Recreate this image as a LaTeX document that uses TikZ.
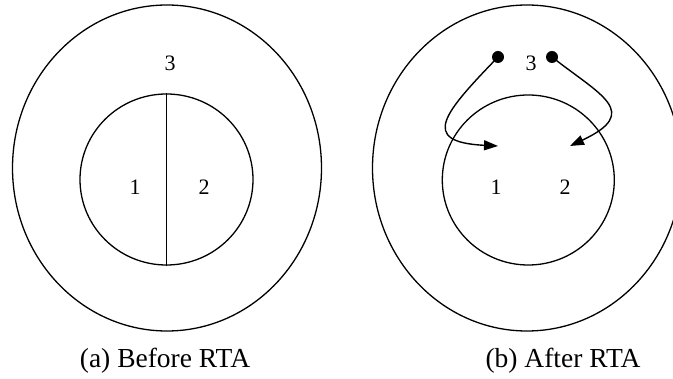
\documentclass[tikz,border=0pt]{standalone}
\usepackage{fontspec}
\setmainfont{Liberation Serif}
\usetikzlibrary{arrows.meta,shapes.geometric}

\begin{document}
\begin{tikzpicture}[
  x=1pt, y=-1pt,
  line width=1.3pt,
  region/.style={draw, ellipse, inner sep=0pt},
  part/.style={font=\fontsize{22}{26}\selectfont, inner sep=0pt},
  caption/.style={font=\fontsize{27.5}{32}\selectfont, inner sep=0pt},
  agent/.style={circle, fill, inner sep=0pt, minimum size=12pt},
  move/.style={-{Triangle[length=14pt, width=10pt]}, line width=1.4pt}
]
\clip (0,0) rectangle (673,379);

% (a) before
\node[region, minimum width=309pt, minimum height=326pt] (outerA) at (167,168) {};
\node[region, minimum width=173pt, minimum height=171pt] (innerA) at (166.5,179.5) {};
\draw[line width=1.8pt] (innerA.north) -- (innerA.south);
\node[part] (threeA) at (170,63) {3};
\node[part] (oneA) at (135,187) {1};
\node[part] (twoA) at (204,187) {2};
\node[caption] (capA) at (165,361) {(a) Before RTA};

% (b) after
\node[region, minimum width=309pt, minimum height=326pt] (outerB) at (527,168) {};
\node[region, minimum width=172pt, minimum height=170pt] (innerB) at (528.3,180) {};
\node[part] (threeB) at (531,63) {3};
\node[part] (oneB) at (496,187) {1};
\node[part] (twoB) at (565,187) {2};
\node[agent] (dotL) at (498,57) {};
\node[agent] (dotR) at (552,57) {};
\coordinate (tipL) at (498,146);
\coordinate (tipR) at (570,146);
\draw[move] (dotL.center) .. controls (445,112) and (418,142) .. (tipL);
\draw[move] (dotR.center) .. controls (600,95) and (642,112) .. (tipR);
\node[caption] (capB) at (563,361) {(b) After RTA};

\end{tikzpicture}
\end{document}
